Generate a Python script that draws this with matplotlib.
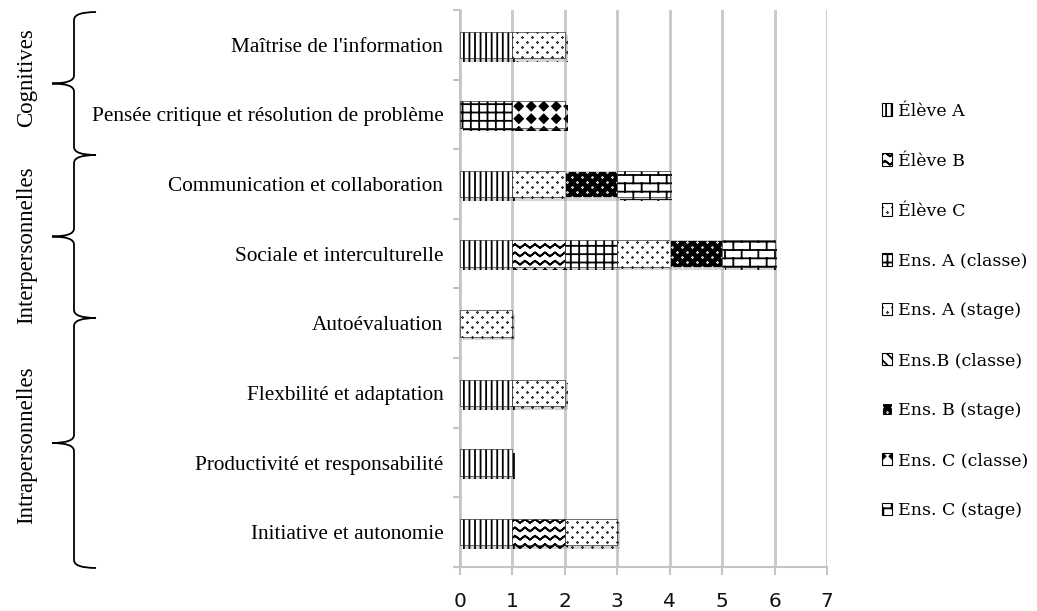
import warnings
import numpy as np
import matplotlib
matplotlib.use("Agg")
import matplotlib.pyplot as plt
import matplotlib.hatch as mhatch
import matplotlib.patheffects as pe
from matplotlib.path import Path
from matplotlib.patches import Patch, PathPatch

warnings.filterwarnings("ignore")

# ---------------- données ----------------
categories = ["Maîtrise de l'information",
              "Pensée critique et résolution de problème",
              "Communication et collaboration",
              "Sociale et interculturelle",
              "Autoévaluation",
              "Flexbilité et adaptation",
              "Productivité et responsabilité",
              "Initiative et autonomie"]

series = ["Élève A", "Élève B", "Élève C", "Ens. A (classe)", "Ens. A (stage)",
          "Ens.B (classe)", "Ens. B (stage)", "Ens. C (classe)", "Ens. C (stage)"]

eleve_a      = [1, 0, 1, 1, 0, 1, 1, 1]
eleve_b      = [0, 0, 0, 1, 0, 0, 0, 1]
eleve_c      = [1, 0, 1, 0, 1, 1, 0, 1]
ens_a_classe = [0, 1, 0, 1, 0, 0, 0, 0]
ens_a_stage  = [0, 0, 0, 1, 0, 0, 0, 0]
ens_b_classe = [0, 0, 0, 0, 0, 0, 0, 0]
ens_b_stage  = [0, 0, 1, 1, 0, 0, 0, 0]
ens_c_classe = [0, 1, 0, 0, 0, 0, 0, 0]
ens_c_stage  = [0, 0, 1, 1, 0, 0, 0, 0]

groupes = ["Cognitives", "Interpersonnelles", "Intrapersonnelles"]
x_ticks = [0, 1, 2, 3, 4, 5, 6, 7]

valeurs = [eleve_a, eleve_b, eleve_c, ens_a_classe, ens_a_stage,
           ens_b_classe, ens_b_stage, ens_c_classe, ens_c_stage]


# ---------------- motifs de hachures perso ----------------
class ZigzagHatch(mhatch.HatchPatternBase):
    # aller-retour sur la ligne pour que le remplissage reste vide
    def __init__(self, hatch, density):
        self.num_rows = hatch.count('z') * density
        self.num_pts = 21
        self.num_vertices = self.num_rows * self.num_pts * 2

    def set_vertices_and_codes(self, vertices, codes):
        n, p = self.num_rows, self.num_pts
        xs = np.linspace(0, 1, p)
        amp = 0.45 / n
        for i in range(n):
            ys = (i + 0.25) / n + amp * (np.arange(p) % 2)
            pts = np.column_stack([xs, ys])
            pts = np.vstack([pts, pts[::-1]])
            s = slice(i * 2 * p, (i + 1) * 2 * p)
            vertices[s] = pts
            codes[s] = Path.LINETO
            codes[i * 2 * p] = Path.MOVETO


class BrickHatch(mhatch.HatchPatternBase):
    def __init__(self, hatch, density):
        self.num_rows = hatch.count('b') * density
        self.num_cols = 6
        self.num_vertices = self.num_rows * (2 + 2 * self.num_cols)

    def set_vertices_and_codes(self, vertices, codes):
        n, m = self.num_rows, self.num_cols
        k = 0
        for i in range(n):
            y0, y1 = i / n, (i + 1) / n
            vertices[k] = (0, y0)
            vertices[k + 1] = (1, y0)
            codes[k], codes[k + 1] = Path.MOVETO, Path.LINETO
            k += 2
            off = 0.5 / m if i % 2 else 0.0
            for j in range(m):
                x = j / m + off
                vertices[k] = (x, y0)
                vertices[k + 1] = (x, y1)
                codes[k], codes[k + 1] = Path.MOVETO, Path.LINETO
                k += 2


class DiamondHatch(mhatch.HatchPatternBase):
    def __init__(self, hatch, density):
        self.num_rows = hatch.count('d') * 8
        self.num_vertices = self.num_rows ** 2 * 5

    def set_vertices_and_codes(self, vertices, codes):
        n = self.num_rows
        r = 0.34 / n
        forme = np.array([[0, r], [-r, 0], [0, -r], [r, 0], [0, r]])
        k = 0
        for i in range(n):
            for j in range(n):
                vertices[k:k + 5] = forme + [(j + 0.5) / n, (i + 0.5) / n]
                codes[k:k + 5] = [Path.MOVETO, Path.LINETO, Path.LINETO,
                                  Path.LINETO, Path.CLOSEPOLY]
                k += 5


class DotHatch(mhatch.HatchPatternBase):
    # petits points en quinconce
    def __init__(self, hatch, density):
        on = 'p' in hatch
        self.rows, self.cols = (20, 10) if on else (0, 0)
        self.num_vertices = self.rows * self.cols * 5

    def set_vertices_and_codes(self, vertices, codes):
        r = 0.003
        forme = np.array([[0, r], [-r, 0], [0, -r], [r, 0], [0, r]])
        k = 0
        for i in range(self.rows):
            off = 0.5 if i % 2 else 0.0
            for j in range(self.cols):
                vertices[k:k + 5] = forme + [(j + off + 0.25) / self.cols,
                                             (i + 0.5) / self.rows]
                codes[k:k + 5] = [Path.MOVETO, Path.LINETO, Path.LINETO,
                                  Path.LINETO, Path.CLOSEPOLY]
                k += 5


mhatch._hatch_types.extend([ZigzagHatch, BrickHatch, DiamondHatch, DotHatch])

styles = [("white", "black", "|||"),
          ("white", "black", "zz"),
          ("white", "black", "p"),
          ("white", "black", "++"),
          ("white", "black", "p"),
          ("white", "black", "\\\\\\"),
          ("black", "white", "p"),
          ("white", "black", "d"),
          ("white", "black", "bb")]

plt.rcParams["hatch.linewidth"] = 1.3

fig = plt.figure(figsize=(10.37, 6.11), dpi=100)
ax = fig.add_axes([460 / 1037, 1 - 567 / 611, 367 / 1037, 557 / 611])

y = np.arange(len(categories))
gauche = np.zeros(len(categories))
ombre = [pe.SimplePatchShadow(offset=(2, -2.5), shadow_rgbFace="#888888", alpha=0.35),
         pe.Normal()]
for nom, vals, (fc, ec, h) in zip(series, valeurs, styles):
    vals = np.array(vals, dtype=float)
    m = vals > 0
    if m.any():
        bars = ax.barh(y[m], vals[m], left=gauche[m], height=0.38, color=fc,
                       edgecolor=ec, hatch=h, linewidth=0.4, zorder=3)
        for b in bars:
            b.set_path_effects(ombre)
    gauche += vals

ax.set_xlim(0, 7)
ax.set_ylim(len(categories) - 0.5, -0.5)
ax.set_xticks(x_ticks)
ax.set_xticklabels([str(t) for t in x_ticks], fontsize=14.5, color="#111111")
ax.set_yticks(y)
ax.set_yticklabels(categories, fontsize=15.3, family="Liberation Serif")
ax.set_yticks(np.arange(-0.5, len(categories)), minor=True)
ax.tick_params(axis="y", which="major", length=0, pad=12)
ax.tick_params(axis="y", which="minor", length=5, width=1.5, color="#c4c4c4")
ax.tick_params(axis="x", length=6, width=1.5, color="#c4c4c4", pad=12)
ax.grid(axis="x", color="#c8c8c8", linewidth=2, zorder=0)
ax.set_axisbelow(True)
for s in ["top", "right"]:
    ax.spines[s].set_visible(False)
for s in ["left", "bottom"]:
    ax.spines[s].set_color("#c4c4c4")
    ax.spines[s].set_linewidth(1.5)

# légende
poignees = [Patch(facecolor=fc, edgecolor=ec, hatch=h, linewidth=0.8)
            for (fc, ec, h) in styles]
fig.legend(poignees, series, loc="center left", bbox_to_anchor=(0.842, 0.491),
           frameon=False, prop={"family": "DejaVu Serif", "size": 12.5},
           handlelength=0.6, handleheight=0.7, handletextpad=0.35,
           labelspacing=1.9, borderpad=0)

# accolades des groupes
fond = fig.add_axes([0, 0, 1, 1], zorder=-1)
fond.set_xlim(0, 1037)
fond.set_ylim(611, 0)
fond.axis("off")
accolades = [(12, 155), (155, 318), (318, 568)]
centres_txt = [78, 245, 445]
for nom, (y0, y1), yt in zip(groupes, accolades, centres_txt):
    ym = (y0 + y1) / 2
    xl, xt, xe, r = 74, 52, 96, 8
    verts = [(xe, y0), (xl, y0), (xl, y0 + r), (xl, y0 + r),
             (xl, ym - r), (xl, ym), (xt, ym),
             (xl, ym), (xl, ym + r),
             (xl, y1 - r), (xl, y1 - r), (xl, y1), (xe, y1)]
    codes = [Path.MOVETO, Path.CURVE3, Path.CURVE3, Path.LINETO,
             Path.LINETO, Path.CURVE3, Path.CURVE3,
             Path.CURVE3, Path.CURVE3,
             Path.LINETO, Path.LINETO, Path.CURVE3, Path.CURVE3]
    fond.add_patch(PathPatch(Path(verts, codes), fill=False, lw=1.3, color="black"))
    fond.text(27, yt, nom, rotation=90, ha="center", va="center",
              fontsize=16.5, family="Liberation Serif")

fig.savefig("out.png", dpi=100)
